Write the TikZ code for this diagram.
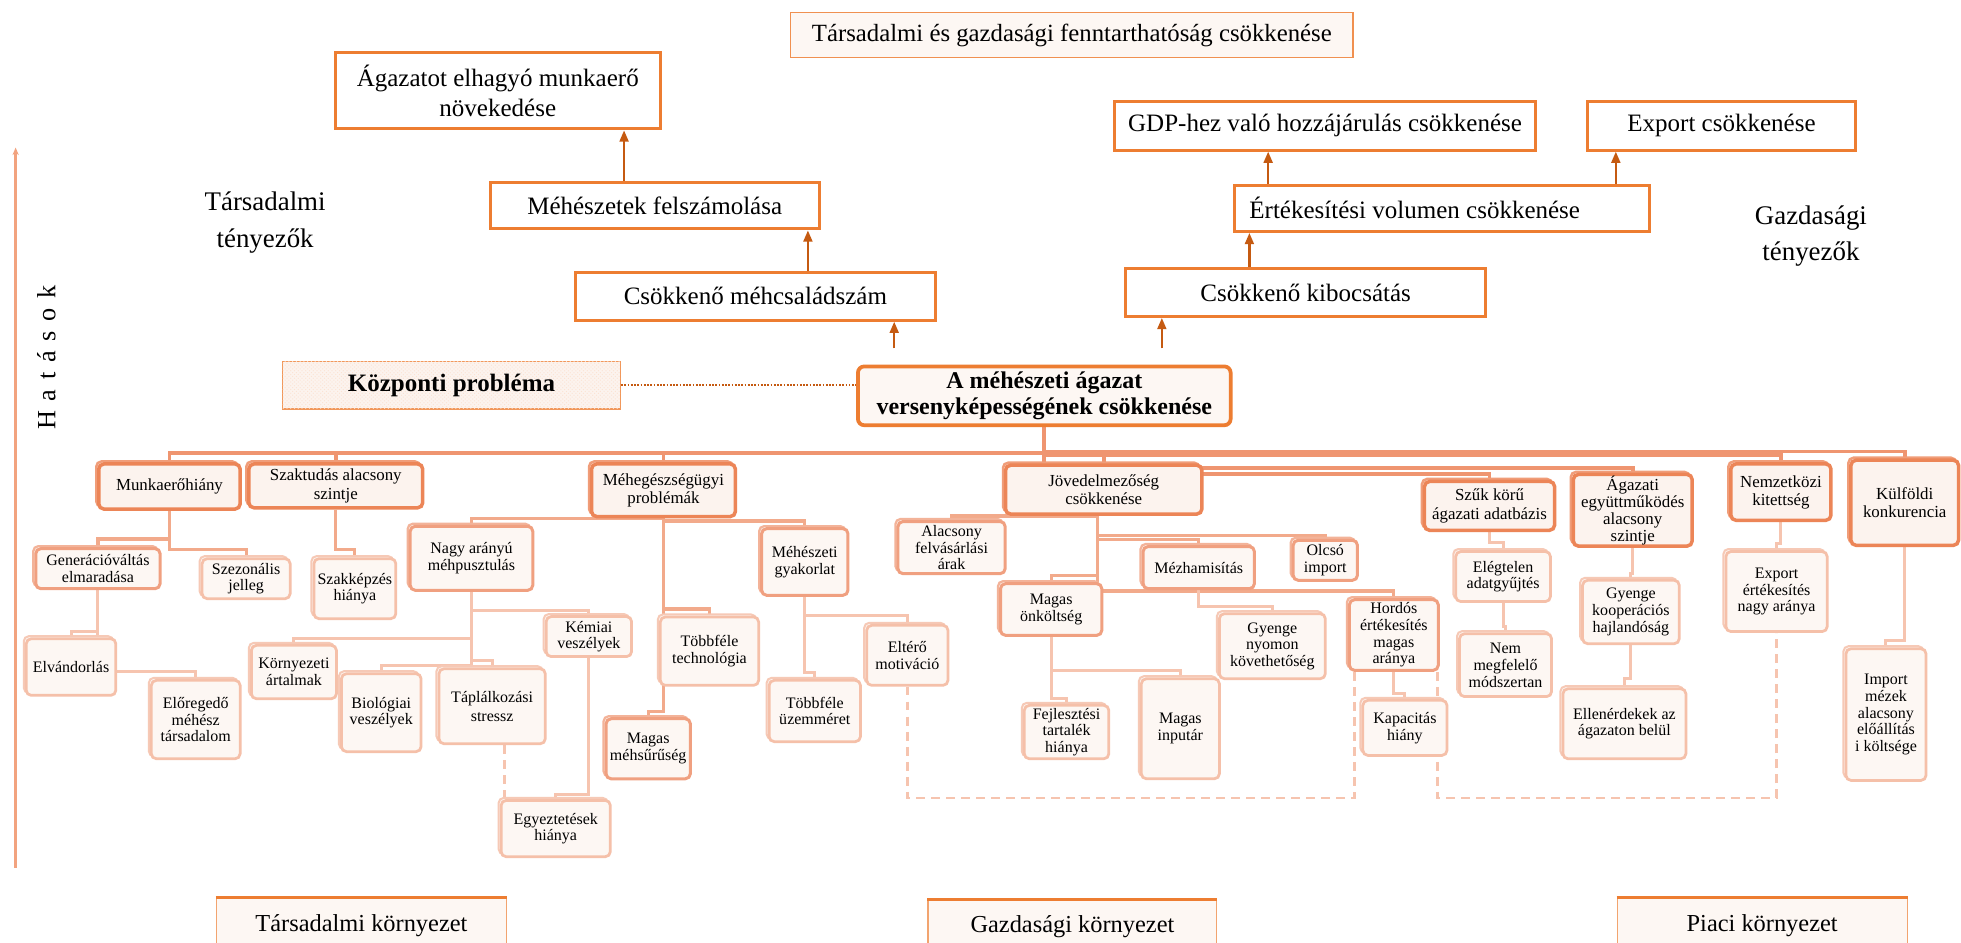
\documentclass[tikz,border=0pt]{standalone}
\usepackage{fontspec}
\setmainfont{Liberation Serif}
\usetikzlibrary{arrows.meta,shadows,patterns}
\pgfdeclarelayer{bg}
\pgfsetlayers{bg,main}

\definecolor{org}{HTML}{ED7D31}
\definecolor{darkorg}{HTML}{C55A11}
\definecolor{lvaline}{HTML}{EC8557}
\definecolor{lvbline}{HTML}{F0A080}
\definecolor{lvcline}{HTML}{F5C0A9}
\definecolor{palefill}{HTML}{FCF3EE}
\definecolor{palerfill}{HTML}{FDF7F3}
\definecolor{conA}{HTML}{EF9570}
\definecolor{conB}{HTML}{F2AA8B}
\definecolor{conC}{HTML}{F6C4AF}
\definecolor{hatcol}{HTML}{F2A37F}

% box from its corners: name, style, x1, y1, x2, y2, text
\newcommand\bx[7]{\node[#2,minimum width={(#5-#3)*1pt},minimum height={(#6-#4)*1pt}] (#1) at ({(#3+#5)/2},{(#4+#6)/2}) {#7};}
% elbow connector: down from a parent, across at a given level, down into the child
\newcommand\elb[4][conn3]{\draw[#1] (#2) -- (#2 |- 0,#4) -| (#3);}

\tikzset{
  effbox/.style={draw=org,line width=2.4pt,fill=white,font=\fontsize{20}{24}\selectfont},
  titbox/.style={draw=org!85,line width=1.3pt,fill=palerfill,font=\fontsize{19.8}{22}\selectfont},
  sidelabel/.style={font=\fontsize{21.5}{29}\selectfont},
  kpbox/.style={draw=org!80,line width=1.3pt,fill=palefill,
    postaction={pattern=crosshatch dots,pattern color=org!22},
    font=\bfseries\fontsize{20}{22}\selectfont},
  cenbox/.style={draw=org,line width=3pt,rounded corners=5pt,fill=palerfill,
    font=\bfseries\fontsize{19.2}{21.5}\selectfont},
  lvone/.style={draw=lvaline,line width=2.8pt,rounded corners=4pt,fill=palefill,
    copy shadow={shadow xshift=-2pt,shadow yshift=2pt,draw=lvaline!80,fill=palefill,line width=2pt},
    font=\fontsize{13.5}{14.6}\selectfont},
  lvtwo/.style={draw=lvbline,line width=2.4pt,rounded corners=4pt,fill=palerfill,
    copy shadow={shadow xshift=-2pt,shadow yshift=2pt,draw=lvbline!80,fill=palerfill,line width=1.8pt},
    font=\fontsize{12.8}{13.4}\selectfont},
  lvthree/.style={draw=lvcline,line width=2.2pt,rounded corners=4pt,fill=palerfill,
    copy shadow={shadow xshift=-2pt,shadow yshift=2pt,draw=lvcline!85,fill=palerfill,line width=1.6pt},
    font=\fontsize{12.8}{13.4}\selectfont},
  envbox/.style={draw=org!70,line width=0.9pt,fill=palerfill,font=\fontsize{19.5}{22}\selectfont},
  envtop/.style={draw=org,line width=2.6pt},
  conn1/.style={draw=conA,line width=3pt},
  conn2/.style={draw=conB,line width=2.6pt},
  conn3/.style={draw=conC,line width=2.4pt},
  dsh/.style={draw=conC,line width=2.2pt,dash pattern=on 7pt off 5pt},
  upar/.style={draw=darkorg,line width=2pt,-{Triangle[length=9pt,width=7pt]}},
  dotl/.style={draw=darkorg,line width=2pt,dash pattern=on 1.3pt off 1.3pt},
  hatar/.style={draw=hatcol,line width=2.4pt,-{Stealth[length=6pt,width=5pt]}},
}

\begin{document}
\begin{tikzpicture}[x=1pt,y=-1pt,every node/.style={align=center,inner sep=1pt}]
\useasboundingbox (0,0) rectangle (1568,754);
\clip (0,0) rectangle (1568,754);
\begin{pgfonlayer}{bg}
  \fill[white] (0,0) rectangle (1568,754);
\end{pgfonlayer}

% ---------- effects (upper part) ----------
\bx{tit}{titbox}{632}{10}{1082}{46}{Társadalmi és gazdasági fenntarthatóság csökkenése}
\bx{aga}{effbox}{268}{42}{528}{103}{Ágazatot elhagyó munkaerő\\növekedése}
\bx{fel}{effbox}{392}{146}{655}{183}{Méhészetek felszámolása}
\bx{mcs}{effbox}{460}{218}{748}{256}{Csökkenő méhcsaládszám}
\bx{gdp}{effbox}{891}{81}{1228}{120}{GDP-hez való hozzájárulás csökkenése}
\bx{exp}{effbox}{1269}{81}{1484}{120}{Export csökkenése}
\bx{ert}{effbox}{987}{148}{1319}{185}{\makebox[308pt][l]{Értékesítési volumen csökkenése}}
\bx{kib}{effbox}{900}{215}{1188}{253}{Csökkenő kibocsátás}

\node[sidelabel] (tt) at (212,178) {Társadalmi\\tényezők};
\node[sidelabel] (gt) at (1448,189) {Gazdasági\\tényezők};

% ---------- central problem ----------
\bx{kp}{kpbox}{226}{289}{496}{327}{Központi probléma}
\bx{cen}{cenbox}{686}{293}{984}{340}{A méhészeti ágazat\\versenyképességének csökkenése}

% ---------- causes, first level ----------
\bx{mun}{lvone}{79}{371}{192}{407}{Munkaerőhiány}
\bx{szt}{lvone}{199}{371}{338}{406}{Szaktudás alacsony\\szintje}
\bx{meg}{lvone}{473}{371}{588}{413}{Méhegészségügyi\\problémák}
\bx{jov}{lvone}{804}{372}{961}{411}{Jövedelmezőség\\csökkenése}
\bx{szu}{lvone}{1139}{385}{1243}{424}{Szűk körű\\ágazati adatbázis}
\bx{agz}{lvone,font=\fontsize{13.5}{13.6}\selectfont}{1258}{380}{1353}{436}{Ágazati\\együttműködés\\alacsony\\szintje}
\bx{nem}{lvone}{1384}{371}{1464}{416}{Nemzetközi\\kitettség}
\bx{kul}{lvone}{1480}{368}{1566}{436}{Külföldi\\konkurencia}

% ---------- causes, deeper levels ----------
\bx{gen}{lvtwo}{28.6}{438.7}{128}{470.7}{Generációváltás\\elmaradása}
\bx{sze}{lvthree}{161.6}{446.7}{232}{478.7}{Szezonális\\jelleg}
\bx{szk}{lvthree}{251}{446.7}{316.5}{494.7}{Szakképzés\\hiánya}
\bx{nag}{lvtwo}{328}{420.8}{426}{472}{Nagy arányú\\méhpusztulás}
\bx{elv}{lvthree}{21}{510.7}{92.6}{556}{Elvándorlás}
\bx{elo}{lvthree}{121}{544}{192}{606.7}{Előregedő\\méhész\\társadalom}
\bx{kor}{lvthree}{201}{516}{269}{558.7}{Környezeti\\ártalmak}
\bx{bio}{lvthree}{273}{538.7}{336.7}{601}{Biológiai\\veszélyek}
\bx{tap}{lvthree,font=\fontsize{12.8}{15}\selectfont}{351}{534.7}{436}{594.7}{Táplálkozási\\stressz}
\bx{kem}{lvthree}{436.7}{493}{505}{525}{Kémiai\\veszélyek}
\bx{egy}{lvthree}{400.7}{640}{488}{685}{Egyeztetések\\hiánya}
\bx{mgy}{lvtwo}{609}{422.7}{678}{476}{Méhészeti\\gyakorlat}
\bx{tob}{lvthree}{528}{493.3}{606.6}{548}{Többféle\\technológia}
\bx{msu}{lvtwo}{484.6}{574.7}{552}{622.7}{Magas\\méhsűrűség}
\bx{tuz}{lvthree}{615}{544}{688}{593}{Többféle\\üzemméret}
\bx{elt}{lvthree}{693}{500}{758}{548}{Eltérő\\motiváció}
\bx{ala}{lvtwo}{718}{417}{803.7}{458.7}{Alacsony\\felvásárlási\\árak}
\bx{mon}{lvtwo}{800}{466.7}{881}{508}{Magas\\önköltség}
\bx{fej}{lvthree}{819}{564}{886.6}{606.7}{Fejlesztési\\tartalék\\hiánya}
\bx{mez}{lvtwo}{914}{437}{1003}{470.7}{Mézhamisítás}
\bx{olc}{lvtwo}{1034}{432}{1085.4}{464}{Olcsó\\import}
\bx{gye}{lvthree}{975}{490.7}{1059.7}{542.7}{Gyenge\\nyomon\\követhetőség}
\bx{inp}{lvthree}{912.6}{542.7}{975}{622.7}{Magas\\inputár}
\bx{hor}{lvtwo}{1079}{479.5}{1150}{536}{Hordós\\értékesítés\\magas\\aránya}
\bx{kap}{lvthree}{1089.7}{560}{1157}{604}{Kapacitás\\hiány}
\bx{ele}{lvthree}{1164}{441}{1239.7}{481}{Elégtelen\\adatgyűjtés}
\bx{nmm}{lvthree}{1167}{506.7}{1240.6}{557}{Nem\\megfelelő\\módszertan}
\bx{gko}{lvthree}{1265.4}{464}{1342.7}{514.7}{Gyenge\\kooperációs\\hajlandóság}
\bx{ell}{lvthree}{1249.7}{550.7}{1348}{606.7}{Ellenérdekek az\\ágazaton belül}
\bx{exe}{lvthree}{1380}{441}{1461}{505}{Export\\értékesítés\\nagy aránya}
\bx{imp}{lvthree}{1476}{518.7}{1540}{624}{Import\\mézek\\alacsony\\előállítás\\i költsége}

% ---------- environments ----------
\bx{tk}{envbox}{173}{718}{405}{762}{Társadalmi környezet}
\bx{gk}{envbox}{742}{719.5}{973}{762}{Gazdasági környezet}
\bx{pk}{envbox}{1293}{718}{1525}{762}{Piaci környezet}
\draw[envtop] (tk.north west) -- (tk.north east);
\draw[envtop] (gk.north west) -- (gk.north east);
\draw[envtop] (pk.north west) -- (pk.north east);

% ---------- "Hatások" axis ----------
\coordinate (hatbot) at (12.5,694);
\coordinate (hattop) at (12.5,118);
\draw[hatar] (hatbot) -- (hattop);
\node[rotate=90,font=\fontsize{21}{24}\selectfont] (hat) at (37,286)
  {H\hspace{7.8pt}a\hspace{7.8pt}t\hspace{7.8pt}á\hspace{7.8pt}s\hspace{7.8pt}o\hspace{7.8pt}k};

% ---------- effect arrows ----------
\coordinate (a1) at ([xshift=-120pt,yshift=13pt]cen.north);
\coordinate (a2) at ([xshift=94pt,yshift=13pt]cen.north);
\coordinate (a3) at ([xshift=42pt]mcs.north);
\coordinate (a4) at ([xshift=-24.5pt]fel.north);
\coordinate (a5) at ([xshift=-45pt]kib.north);
\coordinate (a6) at ([xshift=-139pt]ert.north);
\coordinate (a7) at ([xshift=139pt]ert.north);
\draw[upar] (a1) -- (a1 |- mcs.south);
\draw[upar] (a2) -- (a2 |- kib.south);
\draw[upar] (a3) -- (a3 |- fel.south);
\draw[upar] (a4) -- (a4 |- aga.south);
\draw[upar] (a5) -- (a5 |- ert.south);
\draw[upar] (a6) -- (a6 |- gdp.south);
\draw[upar] (a7) -- (a7 |- exp.south);

\draw[dotl] (kp.east) -- (kp.east -| cen.west);

% ---------- cause tree ----------
\begin{pgfonlayer}{bg}
  \elb[conn1]{cen.south}{mun.north}{362}
  \elb[conn1]{cen.south}{szt.north}{362}
  \elb[conn1]{cen.south}{meg.north}{362}
  \elb[conn1]{cen.south}{jov.north}{364}
  \elb[conn1]{cen.south}{kul.north}{361}
  \elb[conn1]{cen.south}{nem.north}{364}
  \elb[conn1]{cen.south}{agz.north}{374}
  \elb[conn1]{cen.south}{szu.north}{379}

  \elb[conn2]{mun.south}{gen.north}{431}
  \elb[conn2]{mun.south}{sze.north}{439.5}
  \elb[conn2]{szt.south}{szk.north}{439.5}
  \elb[conn3]{gen.south}{elv.north}{505}
  \elb[conn3]{gen.south}{elo.north}{537}

  \elb[conn2]{meg.south}{nag.north}{414.5}
  \elb[conn2]{meg.south}{mgy.north}{416.5}
  \elb[conn2]{meg.south}{tob.north}{487}
  \elb[conn2]{meg.south}{msu.north}{569}
  \elb[conn3]{nag.south}{kem.north}{488}
  \elb[conn3]{nag.south}{kor.north}{510.7}
  \elb[conn3]{nag.south}{tap.north}{528.5}
  \elb[conn3]{nag.south}{bio.north}{532}
  \elb[conn3]{kem.south}{egy.north}{635}
  \elb[conn3]{mgy.south}{elt.north}{492}
  \elb[conn3]{mgy.south}{tuz.north}{538}

  \coordinate (jt) at ([xshift=-5pt]jov.south);
  \elb[conn2]{jt}{ala.north}{412.5}
  \elb[conn2]{jt}{olc.north}{428}
  \elb[conn2]{jt}{mez.north}{431.5}
  \elb[conn2]{jt}{mon.north}{460}
  \elb[conn2]{jt}{hor.north}{472.5}
  \elb[conn3]{mon.south}{inp.north}{536}
  \elb[conn3]{mon.south}{fej.north}{558.7}
  \elb[conn3]{mez.south}{gye.north}{485}
  \elb[conn3]{hor.south}{kap.north}{554.7}

  \elb[conn3]{szu.south}{ele.north}{434}
  \elb[conn3]{ele.south}{nmm.north}{501}
  \elb[conn3]{agz.south}{gko.north}{458.7}
  \elb[conn3]{gko.south}{ell.north}{542.7}
  \elb[conn3]{nem.south}{exe.north}{434.7}
  \elb[conn3]{kul.south}{imp.north}{512}

  % dashed links between related causes
  \coordinate (td) at ([xshift=10pt]tap.south);
  \draw[dsh] (td) -- (td |- egy.north);
  \draw[dsh] (elt.south) -- (elt.south |- 0,638) -| ([xshift=5pt]hor.south west);
  \coordinate (hb) at ([xshift=-2pt]hor.south east);
  \draw[dsh] (hb) -- (hb |- 0,638) -| (exe.south);
\end{pgfonlayer}
\end{tikzpicture}
\end{document}
